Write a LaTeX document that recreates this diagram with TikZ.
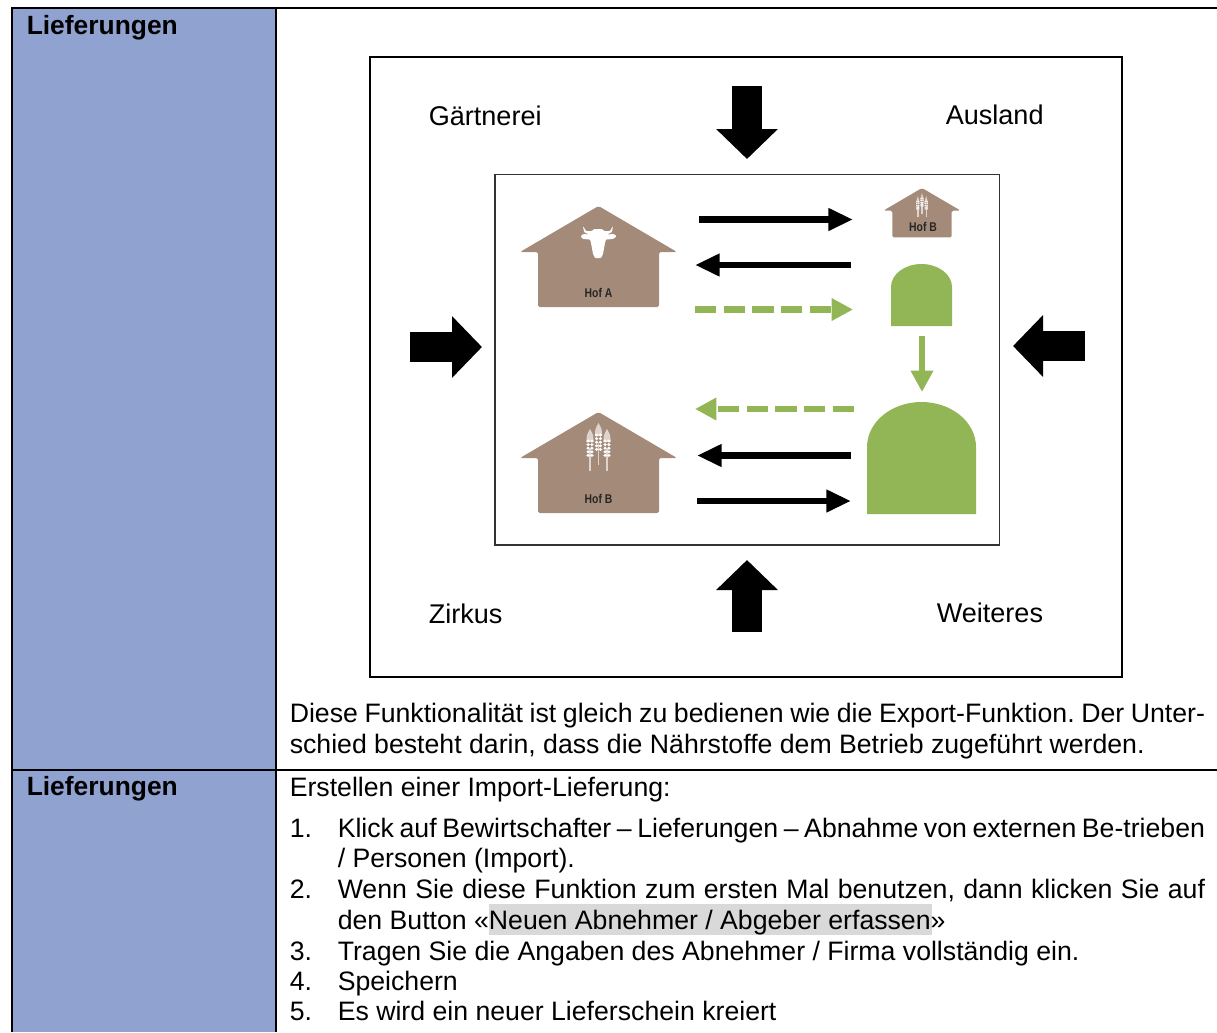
\documentclass[tikz,border=0pt]{standalone}
\usepackage{fontspec}
\setmainfont{Liberation Sans}
\usetikzlibrary{arrows.meta}
\definecolor{kopfblau}{RGB}{143,162,208}
\definecolor{hofbraun}{RGB}{164,138,121}
\definecolor{silogruen}{RGB}{146,181,85}
\definecolor{markgrau}{RGB}{217,217,217}
\definecolor{aehre}{RGB}{222,212,205}
\newcommand{\bz}[2]{\makebox[#1][s]{#2}}
\frenchspacing
\tikzset{
  gitter/.style={line width=1.5pt},
  textzeile/.style={anchor=base west,inner sep=0pt,font=\fontsize{20}{24}\selectfont},
  kopfzeile/.style={anchor=base west,inner sep=0pt,font=\fontsize{19.8}{24}\selectfont\bfseries},
  ort/.style={anchor=base west,inner sep=0pt,font=\fontsize{20.3}{24}\selectfont},
  hofname/.style={inner sep=0pt,xscale=.82,text=black!85,font=\fontsize{9.5}{10}\selectfont\bfseries},
  block/.style={line width=22.5pt,-{Triangle[length=22.5pt,width=45pt]}},
  pfeil/.style={line width=5.2pt,-{Triangle[length=18.5pt,width=16pt]}},
  gruenpfeil/.style={line width=5pt,silogruen,-{Triangle[length=16pt,width=16pt]}},
  gruendash/.style={gruenpfeil,dash pattern=on 16.1pt off 5.4pt},
  hof/.pic={
    \fill[hofbraun,rounded corners=1.2pt] (0,0) -- (78.5,46) -- (60.5,46) -- (60.5,101) -- (-60.5,101) -- (-60.5,46) -- (-78.5,46) -- cycle;
  },
  weizen/.pic={
    \foreach \dx/\dy in {-8.5/6,0/0,8.5/6}{
      \draw[aehre,line width=1pt] (\dx,\dy+20) -- (\dx,\dy+42);
      \fill[aehre] (\dx-3.6,\dy+13) .. controls (\dx-3.4,\dy+6) .. (\dx,\dy) .. controls (\dx+3.4,\dy+6) .. (\dx+3.6,\dy+13) -- cycle;
      \foreach \k in {0,1,2,3,4}{
        \fill[white] (\dx-1.9,\dy+12+\k*3.6) ellipse (1.8 and 1.6);
        \fill[white] (\dx+1.9,\dy+12+\k*3.6) ellipse (1.8 and 1.6);
      }
    }
  }
}
\begin{document}
\begin{tikzpicture}[x=0.75pt,y=-0.75pt]
  \useasboundingbox (0,0) rectangle (1217,1032);
  \fill[kopfblau] (11,8) rectangle (276,1032);
  \draw[gitter] (11.5,1032) -- (11.5,8) -- (1217,8);
  \draw[gitter] (276,8) -- (276,1032);
  \draw[gitter] (11,770) -- (1217,770);

  \node[kopfzeile] (kopfa) at (26.5,34) {Lieferungen};
  \node[kopfzeile] (kopfb) at (26.5,795) {Lieferungen};

  \draw[line width=1.5pt] (370,56.5) rectangle (1122,677);
  \draw[line width=1pt,black!80] (495,174.5) rectangle (999.5,545);

  \node[ort] (gaertnerei) at (428.5,125) {Gärtnerei};
  \node[ort] (ausland) at (945.5,124) {Ausland};
  \node[ort] (zirkus) at (428.5,623) {Zirkus};
  \node[ort] (weiteres) at (936.5,622) {Weiteres};

  \coordinate (obena) at (747,86);
  \coordinate (obenb) at (747,159);
  \coordinate (linksa) at (410,347);
  \coordinate (linksb) at (482,347);
  \coordinate (rechtsa) at (1085,346);
  \coordinate (rechtsb) at (1013,346);
  \coordinate (untena) at (747,632);
  \coordinate (untenb) at (747,560);
  \draw[block] (obena) -- (obenb);
  \draw[block] (linksa) -- (linksb);
  \draw[block] (rechtsa) -- (rechtsb);
  \draw[block] (untena) -- (untenb);

  \pic at (598.5,206) {hof};
  \pic at (598.5,412) {hof};
  \pic[scale=.49] at (922,188) {hof};
  \pic at (598.5,423) {weizen};
  \pic[scale=.49] at (922,193) {weizen};
  \fill[white,rounded corners=.6pt] (583,226) -- (586,231) -- (592,231) -- (594,229) -- (602,229) -- (604,231) -- (610,231) -- (613,226) -- (612,232) -- (607,234.5) -- (614,234) -- (616.5,236.5) -- (613,239) -- (606,239.5) -- (605,243) -- (603,254) -- (601,258) -- (595,258) -- (593,254) -- (591,243) -- (590,239.5) -- (583,239) -- (580.5,236.5) -- (583,234) -- (589,234.5) -- (584,232) -- cycle;
  \node[hofname] (hofa) at (598.5,293) {Hof A};
  \node[hofname] (hofb) at (598.5,499) {Hof B};
  \node[hofname] (hofc) at (923,227) {Hof B};

  \fill[silogruen] (891,326) -- (891,287) arc[start angle=180,end angle=360,x radius=30.5,y radius=23] -- (952,326) -- cycle;
  \fill[silogruen] (867,514) -- (867,447) arc[start angle=180,end angle=360,x radius=54.5,y radius=45] -- (976,514) -- cycle;

  \coordinate (hofar) at (699,219.5);
  \coordinate (hofbl) at (853,219.5);
  \coordinate (silor) at (851,265);
  \coordinate (hofal) at (695,265);
  \coordinate (gruena) at (695,309.5);
  \coordinate (gruenb) at (853,309.5);
  \coordinate (siloa) at (922,336);
  \coordinate (silob) at (922,392);
  \coordinate (gruenc) at (854,409);
  \coordinate (gruend) at (695,409);
  \coordinate (grossa) at (851,455.5);
  \coordinate (grossb) at (697,455.5);
  \coordinate (grossc) at (697,501);
  \coordinate (grossd) at (851,501);
  \draw[pfeil] (hofar) -- (hofbl);
  \draw[pfeil] (silor) -- (hofal);
  \draw[gruendash] (gruena) -- (gruenb);
  \draw[gruenpfeil] (siloa) -- (silob);
  \draw[gruendash] (gruenc) -- (gruend);
  \draw[pfeil] (grossa) -- (grossb);
  \draw[pfeil] (grossc) -- (grossd);

  \node[textzeile] (texta) at (289.5,722) {\bz{686.5pt}{Diese Funktionalität ist gleich zu bedienen wie die Export-Funktion. Der Unter-}};
  \node[textzeile] (textb) at (289.5,753) {schied besteht darin, dass die Nährstoffe dem Betrieb zugeführt werden.};
  \node[textzeile] (textc) at (289.5,796) {Erstellen einer Import-Lieferung:};

  \fill[markgrau] (489,904) rectangle (932,935);
  \foreach \nr/\y in {1/837,2/898,3/960,4/990,5/1020}{
    \node[textzeile] (nr\nr) at (289.5,\y) {\nr.};
  }
  \node[textzeile] (einsa) at (337.5,837) {\bz{650.5pt}{Klick auf Bewirtschafter – Lieferungen – Abnahme von externen Be-trieben}};
  \node[textzeile] (einsb) at (337.5,867) {/ Personen (Import).};
  \node[textzeile] (zweia) at (337.5,898) {\bz{650.5pt}{Wenn Sie diese Funktion zum ersten Mal benutzen, dann klicken Sie auf}};
  \node[textzeile] (zweib) at (337.5,929) {den Button «Neuen Abnehmer / Abgeber erfassen»};
  \node[textzeile] (drei) at (337.5,960) {Tragen Sie die Angaben des Abnehmer / Firma vollständig ein.};
  \node[textzeile] (vier) at (337.5,990) {Speichern};
  \node[textzeile] (fuenf) at (337.5,1020) {Es wird ein neuer Lieferschein kreiert};
\end{tikzpicture}
\end{document}
